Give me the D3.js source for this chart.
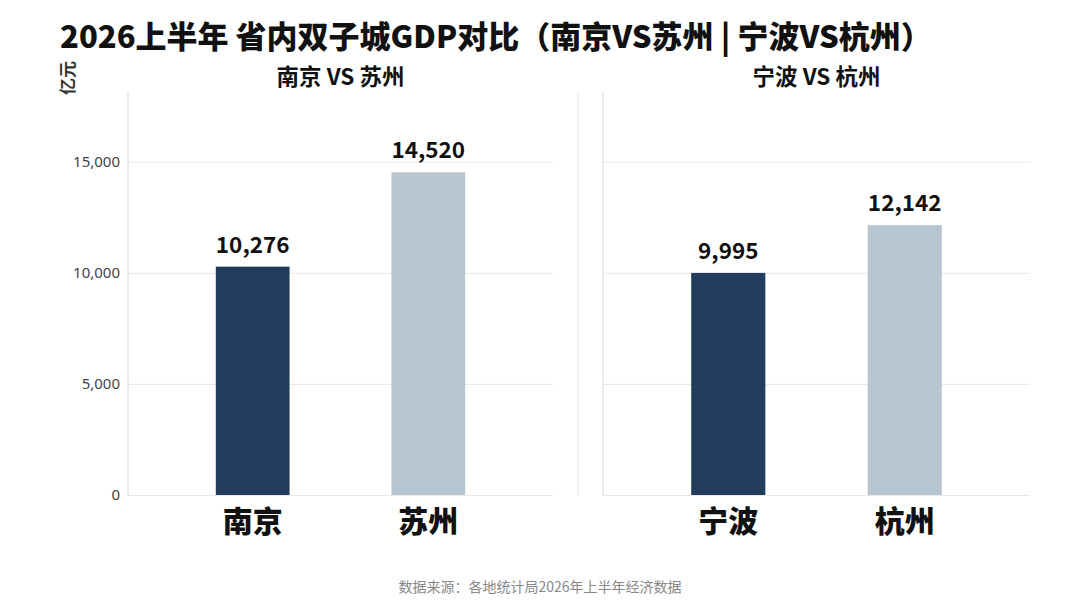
<!DOCTYPE html>
<html>
<head>
<meta charset="utf-8">
<script src="https://cdn.jsdelivr.net/npm/d3@7"></script>
<style>
  body { margin: 0; background: #fff; }
  text { font-family: "Noto Sans CJK SC", "Noto Sans", sans-serif; }
  .grid line { stroke: #e8e8e8; }
  .grid path { display: none; }
  .grid text { fill: #444; font-size: 15px; font-family: "Noto Sans", "Noto Sans CJK SC", sans-serif; }
</style>
</head>
<body>
<div id="chart"></div>
<script>
// values (亿元)
const panelTitles = ["南京 VS 苏州", "宁波 VS 杭州"];
const cities = [["南京", "苏州"], ["宁波", "杭州"]];
const gdp = [[10276, 14520], [9995, 12142]];
const yTicks = [0, 5000, 10000, 15000];
const barColors = ["#213d5b", "#b7c5d0"];

const width = 1080, height = 608;
const plotTop = 95, plotBottom = 495;
const panels = [{x0: 128, x1: 553}, {x0: 603, x1: 1030}];

const svg = d3.select("#chart").append("svg")
    .attr("width", width)
    .attr("height", height);

svg.append("rect").attr("width", width).attr("height", height).attr("fill", "#fff");

const yScale = d3.scaleLinear()
    .domain([0, 18000])
    .range([plotBottom, plotTop]);

// title
svg.append("text")
    .attr("x", 60)
    .attr("y", 48)
    .attr("font-size", 31)
    .attr("font-weight", 900)
    .attr("fill", "#111")
    .text("2026上半年 省内双子城GDP对比（南京VS苏州 | 宁波VS杭州）");

// unit label
svg.append("text")
    .attr("transform", "translate(74,78) rotate(-90)")
    .attr("text-anchor", "middle")
    .attr("font-size", 17)
    .attr("font-weight", 700)
    .attr("fill", "#333")
    .text("亿元");

// separator between the two panels
svg.append("line")
    .attr("x1", 578).attr("x2", 578)
    .attr("y1", plotTop - 3).attr("y2", plotBottom)
    .attr("stroke", "#e6e6e6");

panels.forEach(function(p, i) {
    const g = svg.append("g");

    const xScale = d3.scaleBand()
        .domain(cities[i])
        .range([p.x0, p.x1])
        .paddingInner(0.58)
        .paddingOuter(0.5);

    // gridlines (+ tick labels on the left panel only)
    g.append("g")
        .attr("class", "grid")
        .attr("transform", `translate(${p.x0},0)`)
        .call(d3.axisLeft(yScale)
            .tickValues(yTicks)
            .tickSize(-(p.x1 - p.x0))
            .tickPadding(8)
            .tickFormat(i === 0 ? d3.format(",") : ""))
        .call(ax => ax.selectAll(".tick").filter(d => d === 0).select("line").attr("stroke", "#d0d0d0"));

    // vertical axis line
    g.append("line")
        .attr("x1", p.x0).attr("x2", p.x0)
        .attr("y1", plotTop - 3).attr("y2", plotBottom)
        .attr("stroke", "#dadada");

    // panel subtitle
    g.append("text")
        .attr("x", (p.x0 + p.x1) / 2)
        .attr("y", 85)
        .attr("text-anchor", "middle")
        .attr("font-size", 22.5)
        .attr("font-weight", 700)
        .attr("fill", "#111")
        .text(panelTitles[i]);

    const data = cities[i].map((c, j) => ({city: c, value: gdp[i][j], k: j}));

    g.selectAll("rect.bar")
        .data(data)
        .enter().append("rect")
        .attr("class", "bar")
        .attr("x", d => xScale(d.city))
        .attr("width", xScale.bandwidth())
        .attr("y", d => yScale(d.value))
        .attr("height", d => plotBottom - yScale(d.value))
        .attr("fill", d => barColors[d.k]);

    g.selectAll("text.val")
        .data(data)
        .enter().append("text")
        .attr("class", "val")
        .attr("x", d => xScale(d.city) + xScale.bandwidth() / 2)
        .attr("y", d => yScale(d.value) - 14)
        .attr("text-anchor", "middle")
        .attr("font-size", 22.5)
        .attr("font-weight", 700)
        .attr("fill", "#111")
        .text(d => d3.format(",")(d.value));

    g.selectAll("text.cat")
        .data(data)
        .enter().append("text")
        .attr("class", "cat")
        .attr("x", d => xScale(d.city) + xScale.bandwidth() / 2)
        .attr("y", 532)
        .attr("text-anchor", "middle")
        .attr("font-size", 30)
        .attr("font-weight", 900)
        .attr("fill", "#111")
        .text(d => d.city);
});

// source note
svg.append("text")
    .attr("x", 540)
    .attr("y", 592)
    .attr("text-anchor", "middle")
    .attr("font-size", 14)
    .attr("fill", "#888")
    .text("数据来源：各地统计局2026年上半年经济数据");
</script>
</body>
</html>
